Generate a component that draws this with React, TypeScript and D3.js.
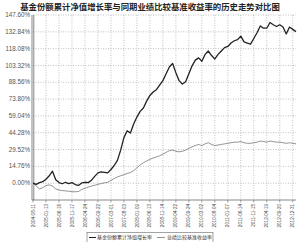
import React from 'react';
import * as d3 from 'd3';

const title = '基金份额累计净值增长率与同期业绩比较基准收益率的历史走势对比图';
const yTicks = [0, 14.76, 29.52, 44.28, 59.04, 73.8, 88.56, 103.32, 118.08, 132.84, 147.6];
const dateLabels = [
  '2004-08-11', '2005-01-13', '2005-06-16', '2005-11-17', '2006-04-24', '2006-09-22',
  '2007-03-01', '2007-08-03', '2008-01-09', '2008-06-13', '2008-11-14', '2009-04-22',
  '2009-09-24', '2010-03-02', '2010-08-04', '2011-01-07', '2011-06-14', '2011-11-15',
  '2012-04-19', '2012-09-20', '2012-12-31',
];
const samplesPerLabel = 4;
const legendNames = ['基金份额累计净值增长率', '业绩比较基准收益率'];

const fundSeries = [
  0, -1, 0.5, 1.3, 3.5, 6.5, 10.5, 3, 0.5, -0.5,
  0.8, -0.3, 0.5, -1.2, -2, 0.2, 0.8, 0.5, 2.5, 6,
  9, 10, 9.5, 9, 12, 15.5, 20, 29, 40, 46,
  44, 52, 58, 63, 66, 72, 77, 80, 82, 86,
  90, 96, 102, 105, 97, 90, 87, 89, 96, 103,
  108, 110, 107, 113, 116, 112, 109, 113, 116, 119,
  120, 123, 125, 126, 129, 124, 123, 122, 127, 132,
  138, 136, 136, 141, 139, 137.5, 139, 137, 131, 137,
  135, 133,
];
const benchSeries = [
  0, -2.5, -5, -4, -2, -1.5, -2.5, -5, -6, -6.5,
  -6.8, -7, -7.5, -7.5, -7.3, -5.5, -4.5, -3.5, -2.5, -1.8,
  -1, -0.3, 0.3, 0.8, 2.5, 4, 5.5, 6.5, 7.5, 8.5,
  9.3, 11, 13.5, 16, 18, 19.5, 21, 22, 23, 24,
  25.5, 27, 28.5, 29, 28, 27.5, 28, 29, 30.5, 32,
  33, 34, 33, 34.5, 35.5, 34, 33, 33.5, 34, 34.5,
  35, 35.5, 36, 36, 36.5, 35.5, 35, 35, 35.5, 36,
  37, 36.5, 36, 37, 36.5, 36, 36, 35.5, 35, 35.5,
  35, 34.5,
];

export default function App() {
  const W = 300, H = 242;
  const left = 33, right = 296, top = 15, bottom = 200;
  const x = d3.scaleLinear().domain([0, fundSeries.length - 1]).range([left, right]);
  const y = d3.scaleLinear().domain([-14.76, 147.6]).range([bottom, top]);
  const line = d3.line<number>().x((_, i) => x(i)).y((d) => y(d));
  const font = '"Liberation Sans", Arial, sans-serif';
  const cjk = '"Noto Sans CJK SC", sans-serif';

  return (
    <svg width={W} height={H} style={{ position: 'absolute', left: 0, top: 0, background: '#fff' }}>
      <text x={W / 2} y={10} textAnchor="middle" fontFamily={cjk} fontWeight="bold" fontSize={8.4} fill="#222">
        {title}
      </text>
      {yTicks.map((t) => (
        <g key={t}>
          <line x1={left} x2={right} y1={y(t)} y2={y(t)} stroke="#999" strokeWidth={0.6} strokeDasharray="1,1.5" />
          <text x={30} y={y(t) + 2.1} textAnchor="end" fontFamily={font} fontSize={6.3} fill="#555">
            {t.toFixed(2) + '%'}
          </text>
        </g>
      ))}
      {dateLabels.map((d, i) => {
        const xx = x(i * samplesPerLabel);
        return (
          <g key={d}>
            {i > 0 && <line x1={xx} x2={xx} y1={top} y2={bottom} stroke="#999" strokeWidth={0.6} strokeDasharray="1,1.5" />}
            <line x1={xx} x2={xx} y1={bottom} y2={bottom + 2.5} stroke="#666" strokeWidth={0.6} />
            <text
              transform={`translate(${xx + 1.6},${bottom + 4}) rotate(-90)`}
              textAnchor="end"
              fontFamily={font}
              fontSize={4.6}
              fill="#444"
            >
              {d}
            </text>
          </g>
        );
      })}
      <line x1={left - 1} x2={left - 1} y1={top} y2={bottom} stroke="#555" strokeWidth={0.7} />
      <line x1={left + 0.8} x2={left + 0.8} y1={top} y2={bottom} stroke="#555" strokeWidth={0.7} />
      <line x1={left - 1} x2={right} y1={bottom} y2={bottom} stroke="#555" strokeWidth={0.7} />
      <path d={line(benchSeries) || ''} fill="none" stroke="#777" strokeWidth={0.8} />
      <path d={line(fundSeries) || ''} fill="none" stroke="#222" strokeWidth={1.3} strokeLinejoin="round" />
      <g>
        <rect x={87} y={232.5} width={126} height={12} fill="#fff" stroke="#666" strokeWidth={0.6} />
        <line x1={89} x2={96} y1={237.5} y2={237.5} stroke="#222" strokeWidth={1} />
        <text x={97} y={239.2} fontFamily={cjk} fontSize={5} fill="#333">{legendNames[0]}</text>
        <line x1={157} x2={165} y1={237.5} y2={237.5} stroke="#777" strokeWidth={0.8} />
        <text x={167} y={239.2} fontFamily={cjk} fontSize={5} fill="#333">{legendNames[1]}</text>
      </g>
    </svg>
  );
}
